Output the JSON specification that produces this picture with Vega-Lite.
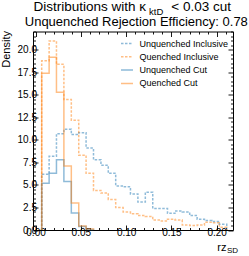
{
"$schema": "https://vega.github.io/schema/vega-lite/v6.json",
"width": 200, "height": 198.5,
"autosize": "none",
"padding": {"left": 33, "top": 31.5, "right": 16, "bottom": 26},
"background": "white",
"config": {
 "view": {"stroke": "black", "strokeWidth": 1},
 "axis": {"grid": false, "domain": false, "tickColor": "black", "tickWidth": 0.9, "labelOverlap": false, "labelFont": "Liberation Sans", "labelFontSize": 10, "labelColor": "black", "titleFont": "Liberation Sans", "titleFontWeight": "normal", "titleColor": "black", "titleLimit": 400, "titleBaseline": "alphabetic"},
 "legend": {"orient": "none", "legendX": 87, "legendY": 5, "symbolType": "stroke", "symbolSize": 144, "symbolStrokeWidth": 1.5, "labelFont": "Liberation Sans", "labelFontSize": 9, "labelColor": "black", "labelOffset": 5.5, "rowPadding": 1.3, "padding": 0}
},
"data": {"values": [
 {"s":"Unquenched Inclusive","x":0.0068,"d":0},
 {"s":"Unquenched Inclusive","x":0.0068,"d":6.2},
 {"s":"Unquenched Inclusive","x":0.0150,"d":8.2},
 {"s":"Unquenched Inclusive","x":0.0231,"d":10.7},
 {"s":"Unquenched Inclusive","x":0.0313,"d":11.2},
 {"s":"Unquenched Inclusive","x":0.0395,"d":10.6},
 {"s":"Unquenched Inclusive","x":0.0477,"d":10.8},
 {"s":"Unquenched Inclusive","x":0.0558,"d":9.1},
 {"s":"Unquenched Inclusive","x":0.0640,"d":7.8},
 {"s":"Unquenched Inclusive","x":0.0722,"d":7.2},
 {"s":"Unquenched Inclusive","x":0.0803,"d":6.3},
 {"s":"Unquenched Inclusive","x":0.0885,"d":4.9},
 {"s":"Unquenched Inclusive","x":0.0967,"d":4.8},
 {"s":"Unquenched Inclusive","x":0.1048,"d":4.0},
 {"s":"Unquenched Inclusive","x":0.1130,"d":3.1},
 {"s":"Unquenched Inclusive","x":0.1212,"d":4.2},
 {"s":"Unquenched Inclusive","x":0.1294,"d":2.4},
 {"s":"Unquenched Inclusive","x":0.1375,"d":2.4},
 {"s":"Unquenched Inclusive","x":0.1457,"d":1.85},
 {"s":"Unquenched Inclusive","x":0.1539,"d":2.1},
 {"s":"Unquenched Inclusive","x":0.1620,"d":2.0},
 {"s":"Unquenched Inclusive","x":0.1702,"d":1.6},
 {"s":"Unquenched Inclusive","x":0.1784,"d":1.2},
 {"s":"Unquenched Inclusive","x":0.1865,"d":1.05},
 {"s":"Unquenched Inclusive","x":0.1947,"d":0.95},
 {"s":"Unquenched Inclusive","x":0.2029,"d":0.65},
 {"s":"Unquenched Inclusive","x":0.2111,"d":0},
 {"s":"Quenched Inclusive","x":0.0068,"d":0},
 {"s":"Quenched Inclusive","x":0.0068,"d":18.8},
 {"s":"Quenched Inclusive","x":0.0150,"d":21.0},
 {"s":"Quenched Inclusive","x":0.0231,"d":18.4},
 {"s":"Quenched Inclusive","x":0.0313,"d":14.5},
 {"s":"Quenched Inclusive","x":0.0395,"d":12.2},
 {"s":"Quenched Inclusive","x":0.0477,"d":8.3},
 {"s":"Quenched Inclusive","x":0.0558,"d":6.3},
 {"s":"Quenched Inclusive","x":0.0640,"d":4.4},
 {"s":"Quenched Inclusive","x":0.0722,"d":4.1},
 {"s":"Quenched Inclusive","x":0.0803,"d":3.4},
 {"s":"Quenched Inclusive","x":0.0885,"d":2.5},
 {"s":"Quenched Inclusive","x":0.0967,"d":2.0},
 {"s":"Quenched Inclusive","x":0.1048,"d":1.8},
 {"s":"Quenched Inclusive","x":0.1130,"d":1.6},
 {"s":"Quenched Inclusive","x":0.1212,"d":1.5},
 {"s":"Quenched Inclusive","x":0.1294,"d":1.1},
 {"s":"Quenched Inclusive","x":0.1375,"d":1.0},
 {"s":"Quenched Inclusive","x":0.1457,"d":1.2},
 {"s":"Quenched Inclusive","x":0.1539,"d":1.1},
 {"s":"Quenched Inclusive","x":0.1620,"d":0.55},
 {"s":"Quenched Inclusive","x":0.1702,"d":0.5},
 {"s":"Quenched Inclusive","x":0.1784,"d":0.55},
 {"s":"Quenched Inclusive","x":0.1865,"d":0.85},
 {"s":"Quenched Inclusive","x":0.1947,"d":0.8},
 {"s":"Quenched Inclusive","x":0.2029,"d":0.3},
 {"s":"Quenched Inclusive","x":0.2111,"d":0},
 {"s":"Unquenched Cut","x":0.0068,"d":0},
 {"s":"Unquenched Cut","x":0.0068,"d":5.2},
 {"s":"Unquenched Cut","x":0.0150,"d":6.3},
 {"s":"Unquenched Cut","x":0.0231,"d":7.8},
 {"s":"Unquenched Cut","x":0.0313,"d":5.4},
 {"s":"Unquenched Cut","x":0.0395,"d":1.9},
 {"s":"Unquenched Cut","x":0.0477,"d":0.4},
 {"s":"Unquenched Cut","x":0.0558,"d":0.05},
 {"s":"Unquenched Cut","x":0.0640,"d":0},
 {"s":"Quenched Cut","x":0.0068,"d":0},
 {"s":"Quenched Cut","x":0.0068,"d":17.4},
 {"s":"Quenched Cut","x":0.0150,"d":19.2},
 {"s":"Quenched Cut","x":0.0231,"d":15.3},
 {"s":"Quenched Cut","x":0.0313,"d":7.1},
 {"s":"Quenched Cut","x":0.0395,"d":3.0},
 {"s":"Quenched Cut","x":0.0477,"d":0.45},
 {"s":"Quenched Cut","x":0.0558,"d":0.1},
 {"s":"Quenched Cut","x":0.0640,"d":0}
]},
"encoding": {
 "color": {"field": "s", "type": "nominal", "scale": {"domain": ["Unquenched Inclusive","Quenched Inclusive","Unquenched Cut","Quenched Cut"], "range": ["#1f77b4","#ff7f0e","#1f77b4","#ff7f0e"]}, "legend": {"title": null}},
 "strokeDash": {"field": "s", "type": "nominal", "scale": {"domain": ["Unquenched Inclusive","Quenched Inclusive","Unquenched Cut","Quenched Cut"], "range": [[2.5,1.5],[2.5,1.5],[1,0],[1,0]]}, "legend": {"title": null}},
 "opacity": {"field": "s", "type": "nominal", "scale": {"domain": ["Unquenched Inclusive","Quenched Inclusive","Unquenched Cut","Quenched Cut"], "range": [0.5,0.5,0.85,0.85]}, "legend": {"title": null}},
 "order": {"value": null}
},
"layer": [
 {"transform": [{"filter": "datum.s === 'Unquenched Inclusive'"}],
  "mark": {"type": "line", "interpolate": "step-after", "strokeWidth": 1.5},
  "encoding": {
   "x": {"field": "x", "type": "quantitative", "scale": {"domain": [-0.0028, 0.218], "nice": false, "zero": false},
    "axis": {"orient": "bottom", "values": [0,0.05,0.1,0.15,0.2], "format": ".2f", "tickSize": -5, "labelPadding": 2, "title": "rz", "titleFontSize": 11, "titleAngle": 0, "titleAlign": "right", "titleX": 193, "titleY": 20}},
   "y": {"field": "d", "type": "quantitative", "scale": {"domain": [0, 22.05], "nice": false},
    "axis": {"orient": "left", "values": [0,2.5,5,7.5,10,12.5,15,17.5,20], "format": ".1f", "tickSize": -5, "labelPadding": 1.5, "title": "Density", "titleFontSize": 11, "titleAlign": "right", "titleX": -23.5, "titleY": -1}}
  }},
 {"transform": [{"filter": "datum.s === 'Quenched Inclusive'"}],
  "mark": {"type": "line", "interpolate": "step-after", "strokeWidth": 1.5},
  "encoding": {
   "x": {"field": "x", "type": "quantitative",
    "axis": {"orient": "bottom", "values": [0.01,0.02,0.03,0.04,0.06,0.07,0.08,0.09,0.11,0.12,0.13,0.14,0.16,0.17,0.18,0.19,0.21], "labels": false, "tickSize": -2.5, "title": "SD", "titleFontSize": 8, "titleAngle": 0, "titleAlign": "left", "titleX": 193.5, "titleY": 22.5}},
   "y": {"field": "d", "type": "quantitative",
    "axis": {"orient": "left", "values": [0.5,1,1.5,2,3,3.5,4,4.5,5.5,6,6.5,7,8,8.5,9,9.5,10.5,11,11.5,12,13,13.5,14,14.5,15.5,16,16.5,17,18,18.5,19,19.5,20.5,21,21.5,22], "labels": false, "tickSize": -2.5, "title": "Unquenched Rejection Efficiency: 0.78", "titleFontSize": 13, "titleAngle": 0, "titleAlign": "center", "titleX": 102.8, "titleY": -6.5}}
  }},
 {"transform": [{"filter": "datum.s === 'Unquenched Cut'"}],
  "mark": {"type": "line", "interpolate": "step-after", "strokeWidth": 1.5},
  "encoding": {
   "x": {"field": "x", "type": "quantitative",
    "axis": {"orient": "top", "values": [0,0.05,0.1,0.15,0.2], "labels": false, "tickSize": -5, "title": "Distributions with κ", "titleFontSize": 13.5, "titleAngle": 0, "titleAlign": "right", "titleX": 112.5, "titleY": -21}},
   "y": {"field": "d", "type": "quantitative",
    "axis": {"orient": "right", "values": [0,2.5,5,7.5,10,12.5,15,17.5,20], "labels": false, "tickSize": -5, "title": "ktD", "titleFontSize": 9.5, "titleAngle": 0, "titleAlign": "left", "titleX": -84.5, "titleY": -17.5}}
  }},
 {"transform": [{"filter": "datum.s === 'Quenched Cut'"}],
  "mark": {"type": "line", "interpolate": "step-after", "strokeWidth": 1.5},
  "encoding": {
   "x": {"field": "x", "type": "quantitative",
    "axis": {"orient": "top", "values": [0.01,0.02,0.03,0.04,0.06,0.07,0.08,0.09,0.11,0.12,0.13,0.14,0.16,0.17,0.18,0.19,0.21], "labels": false, "tickSize": -2.5, "title": "< 0.03 cut", "titleFontSize": 13.5, "titleAngle": 0, "titleAlign": "right", "titleX": 197.5, "titleY": -21}},
   "y": {"field": "d", "type": "quantitative",
    "axis": {"orient": "right", "values": [0.5,1,1.5,2,3,3.5,4,4.5,5.5,6,6.5,7,8,8.5,9,9.5,10.5,11,11.5,12,13,13.5,14,14.5,15.5,16,16.5,17,18,18.5,19,19.5,20.5,21,21.5,22], "labels": false, "tickSize": -2.5, "title": null}}
  }}
],
"resolve": {"axis": {"x": "independent", "y": "independent"}}
}
